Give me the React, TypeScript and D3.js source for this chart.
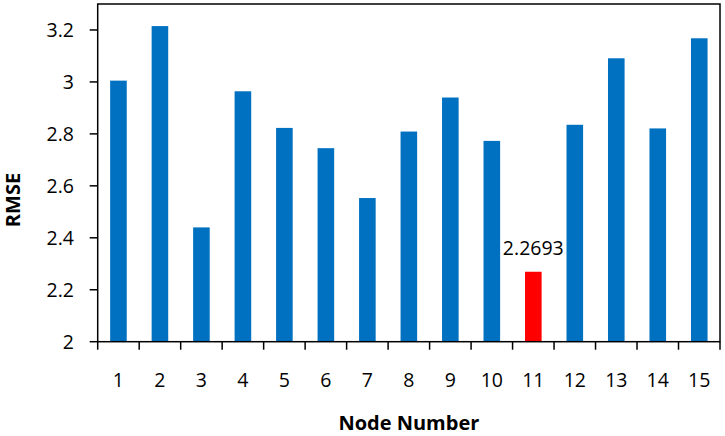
import React from "react";
import * as d3 from "d3";

const categories = ["1","2","3","4","5","6","7","8","9","10","11","12","13","14","15"];
const rmse = [3.005, 3.215, 2.44, 2.964, 2.823, 2.745, 2.553, 2.809, 2.94, 2.773, 2.2693, 2.835, 3.091, 2.821, 3.168];
const yTicks = [2, 2.2, 2.4, 2.6, 2.8, 3, 3.2];
const highlight = "11";
const highlightLabel = "2.2693";

const W = 725, H = 436;
const L = 97.7, R = 720, T = 4, B = 341.7;
const FONT = "'Open Sans', Calibri, sans-serif";

export default function App() {
  const x = d3.scaleBand<string>().domain(categories).range([L, R]).paddingInner(0.6).paddingOuter(0.3);
  const y = d3.scaleLinear().domain([2, 3.3]).range([B, T]);
  const step = x.step();
  return (
    <svg width={W} height={H} style={{ position: "absolute", left: 0, top: 0, background: "#fff" }}>
      {categories.map((c, i) => (
        <rect key={c} x={x(c)} y={y(rmse[i])} width={x.bandwidth()} height={B - y(rmse[i])}
          fill={c === highlight ? "#FF0000" : "#0070C0"} />
      ))}
      <rect x={L} y={T} width={R - L} height={B - T} fill="none" stroke="#000" strokeWidth={1.5} />
      {yTicks.map((t) => (
        <g key={t}>
          <line x1={L - 8} x2={L} y1={y(t)} y2={y(t)} stroke="#000" strokeWidth={1.5} />
          <text x={74} y={y(t)} dy="0.35em" textAnchor="end" fontFamily={FONT} fontSize={19.5} fill="#000">{d3.format("~g")(t)}</text>
        </g>
      ))}
      {d3.range(categories.length + 1).map((i) => (
        <line key={i} x1={L + i * step} x2={L + i * step} y1={B} y2={B + 8} stroke="#000" strokeWidth={1.5} />
      ))}
      {categories.map((c) => (
        <text key={c} x={x(c)! + x.bandwidth() / 2} y={386.5} textAnchor="middle" fontFamily={FONT} fontSize={19.5} fill="#000">{c}</text>
      ))}
      <text x={x(highlight)! + x.bandwidth() / 2} y={255} textAnchor="middle" fontFamily={FONT} fontSize={19.5} fill="#000">{highlightLabel}</text>
      <text x={(L + R) / 2} y={430} textAnchor="middle" fontFamily={FONT} fontWeight="bold" fontSize={20} fill="#000">Node Number</text>
      <text transform={`translate(20, 200) rotate(-90)`} textAnchor="middle" fontFamily={FONT} fontWeight="bold" fontSize={20} fill="#000">RMSE</text>
    </svg>
  );
}
